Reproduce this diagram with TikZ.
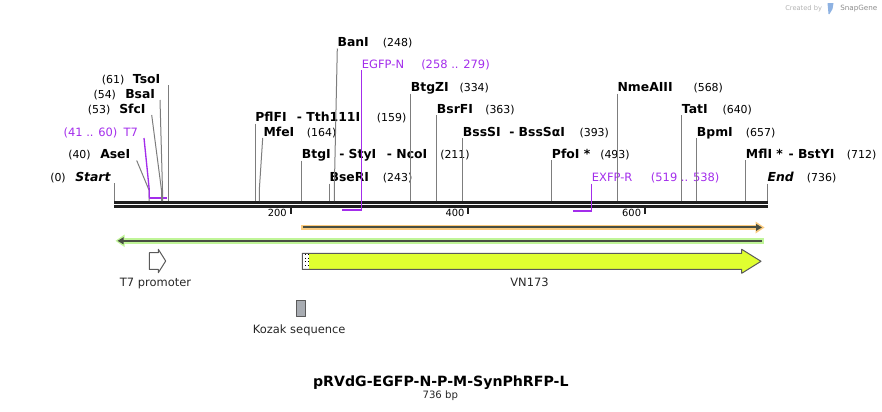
\documentclass[tikz,border=0pt]{standalone}
\usepackage{fontspec}
\setmainfont{DejaVu Sans}
\usepackage{tikz}
\usetikzlibrary{arrows.meta}

\definecolor{primer}{RGB}{163,45,235}
\definecolor{cutgray}{RGB}{125,125,125}
\definecolor{orangeband}{RGB}{251,202,125}
\definecolor{greenband}{RGB}{192,245,152}
\definecolor{featline}{RGB}{72,78,66}
\definecolor{vnfill}{RGB}{224,255,48}
\definecolor{kozakfill}{RGB}{168,172,178}
\definecolor{outline}{RGB}{90,90,90}

\begin{document}
\begin{tikzpicture}[
	x=0.75pt, y=-0.75pt,
	every node/.style={inner sep=0pt, anchor=base west},
	enz/.style={font=\fontsize{9.3}{11}\selectfont\bfseries},
	site/.style={font=\fontsize{8.2}{10}\selectfont},
	primerlbl/.style={font=\fontsize{8.6}{10}\selectfont, text=primer},
	featlbl/.style={font=\fontsize{8.6}{10}\selectfont, anchor=base, text=black!85},
	cut/.style={draw=cutgray, line width=0.75pt},
	primerline/.style={draw=primer, line width=1pt},
	line join=round
	]
	
	\useasboundingbox (0,0) rectangle (882,411);
	
	% Backbone
	\draw[line width=2.3pt, black!88] (114,202.4) -- (767.6,202.4);
	\draw[line width=2.1pt, black!88] (114,206.4) -- (767.6,206.4);
	
	% Ticks
	\foreach \x/\t in {290.7/200, 468.3/400, 645/600} {
		\draw[line width=1.5pt, black!88] (\x,207.5) -- (\x,214.3);
		\node[font=\fontsize{7.4}{9}\selectfont, anchor=base east] (tick\t) at (\x-3.7,216.7) {\t};
	}
	
	% Left labels
	\node[site] (s0) at (50,181.7) {(0)};
	\node[enz, font=\fontsize{9.3}{11}\selectfont\bfseries\itshape] (start) at (75,181.7) {Start};
	\draw[cut] (114.3,183) -- (114.3,201);
	
	\node[site] (s40) at (68,158.7) {(40)};
	\node[enz] (ase) at (100,158.7) {AseI};
	\draw[cut] (136.7,160.5) -- (149,190) -- (149,201);
	
	\node[primerlbl] (t7pos) at (63.3,136.7) {(41 .. 60)};
	\node[primerlbl] (t7) at (123.3,136.7) {T7};
	\draw[primerline] (144,138) -- (149.3,190) -- (149.3,197.7);
	\draw[primer, line width=1.3pt] (149.3,197.7) -- (166.7,197.7);
	
	\node[site] (s53) at (87.7,113.3) {(53)};
	\node[enz] (sfc) at (119,113.3) {SfcI};
	\draw[cut] (151.7,115) -- (161.7,191.7) -- (161.7,201);
	
	\node[site] (s54) at (93.3,98.3) {(54)};
	\node[enz] (bsa) at (125,98.3) {BsaI};
	\draw[cut] (160,100) -- (162.5,190) -- (162.5,201);
	
	\node[site] (s61) at (101.7,83.3) {(61)};
	\node[enz] (tso) at (132.7,83.3) {TsoI};
	\draw[cut] (168.3,85) -- (168.3,201);
	
	% Middle labels
	\node[enz] (pfl) at (255,121.7) {PflFI};
	\node[enz] (tth) at (296.7,121.7) {- Tth111I};
	\node[site] (s159) at (376.7,121.7) {(159)};
	\draw[cut] (255,123.5) -- (255,201);
	
	\node[enz] (mfe) at (263.3,136) {MfeI};
	\node[site] (s164) at (306.7,136) {(164)};
	\draw[cut] (262.7,138) -- (259.3,190) -- (259.3,201);
	
	\node[enz] (btg) at (301.7,158.7) {BtgI};
	\node[enz] (sty) at (339,158.7) {- StyI};
	\node[enz] (nco) at (386.7,158.7) {- NcoI};
	\node[site] (s211) at (440,158.7) {(211)};
	\draw[cut] (301.3,160.5) -- (301.3,201);
	
	\node[enz] (bser) at (329.3,181.7) {BseRI};
	\node[site] (s243) at (382.7,181.7) {(243)};
	\draw[cut] (329.3,183.5) -- (329.3,201);
	
	\node[enz] (ban) at (337.3,46.7) {BanI};
	\node[site] (s248) at (382.7,46.7) {(248)};
	\draw[cut] (337.3,48.5) -- (334.3,190) -- (334.3,201);
	
	\node[primerlbl] (egfpn) at (361.7,68.3) {EGFP-N};
	\node[primerlbl] (egfpnpos) at (421,68.3) {(258 .. 279)};
	\draw[primerline] (361.7,70) -- (361.7,210.3);
	\draw[primer, line width=1.3pt] (342.3,210.3) -- (362.2,210.3);
	
	\node[enz] (btgz) at (410.7,91.7) {BtgZI};
	\node[site] (s334) at (459.3,91.7) {(334)};
	\draw[cut] (410.7,93.5) -- (410.7,201);
	
	\node[enz] (bsrf) at (436.7,113.3) {BsrFI};
	\node[site] (s363) at (485,113.3) {(363)};
	\draw[cut] (436.7,115) -- (436.7,201);
	
	\node[enz] (bsss) at (462.7,136) {BssSI};
	\node[enz] (bsssa) at (509,136) {- BssSαI};
	\node[site] (s393) at (579.3,136) {(393)};
	\draw[cut] (462.7,138) -- (462.7,201);
	
	% Right labels
	\node[enz] (pfo) at (551.7,158.3) {PfoI *};
	\node[site] (s493) at (600,158.3) {(493)};
	\draw[cut] (551.7,160) -- (551.7,201);
	
	\node[primerlbl] (exfpr) at (591.7,181.7) {EXFP-R};
	\node[primerlbl] (exfprpos) at (650.7,181.7) {(519 .. 538)};
	\draw[primerline] (591.7,183.5) -- (591.7,210.7);
	\draw[primer, line width=1.3pt] (573.3,210.7) -- (592.2,210.7);
	
	\node[enz] (nme) at (617.3,91.7) {NmeAIII};
	\node[site] (s568) at (693.3,91.7) {(568)};
	\draw[cut] (617.3,93.5) -- (617.3,201);
	
	\node[enz] (tat) at (681.7,113.3) {TatI};
	\node[site] (s640) at (722.3,113.3) {(640)};
	\draw[cut] (681.7,115) -- (681.7,201);
	
	\node[enz] (bpm) at (696.7,136) {BpmI};
	\node[site] (s657) at (745.7,136) {(657)};
	\draw[cut] (696.7,138) -- (696.7,201);
	
	\node[enz] (mfl) at (745.7,158.3) {MflI *};
	\node[enz] (bsty) at (788.3,158.3) {- BstYI};
	\node[site] (s712) at (846.7,158.3) {(712)};
	\draw[cut] (745.7,160) -- (745.7,201);
	
	\node[enz, font=\fontsize{9.3}{11}\selectfont\bfseries\itshape] (end) at (767.3,181.7) {End};
	\node[site] (s736) at (806.7,181.7) {(736)};
	\draw[cut] (767.3,183.5) -- (767.3,201);
	
	% Orange feature
	\fill[orangeband] (301,225) rectangle (758,230);
	\fill[orangeband] (755.5,221.5) -- (764.5,227.5) -- (755.5,233.5) -- cycle;
	\draw[featline, line width=1.5pt, -{Triangle[length=4.5pt,width=5pt]}] (302.5,227.4) -- (762,227.4);
	
	% Green feature
	\fill[greenband] (121,238) rectangle (763.5,243.5);
	\fill[greenband] (124.5,234.5) -- (115.5,240.8) -- (124.5,247) -- cycle;
	\draw[featline, line width=1.5pt, -{Triangle[length=4.5pt,width=5pt]}] (762.3,240.8) -- (117.5,240.8);
	
	% T7 promoter
	\draw[outline, fill=white, line width=0.75pt] (149.3,252.7) -- (158.3,252.7) -- (158.3,249.3) -- (165.7,261) -- (158.3,272.7) -- (158.3,269.3) -- (149.3,269.3) -- cycle;
	\node[featlbl] (t7prom) at (155.5,286) {T7 promoter};
	
	% VN173
	\fill[vnfill] (302.3,253.3) -- (741.7,253.3) -- (741.7,249.3) -- (761,261.3) -- (741.7,273.3) -- (741.7,269.3) -- (302.3,269.3) -- cycle;
	\fill[white] (302.3,253.3) rectangle (309,269.3);
	\draw[black, dotted, line width=0.75pt] (305,254) -- (305,269);
	\draw[black, dotted, line width=0.75pt] (308.2,254) -- (308.2,269);
	\draw[outline, line width=0.75pt] (302.3,253.3) -- (741.7,253.3) -- (741.7,249.3) -- (761,261.3) -- (741.7,273.3) -- (741.7,269.3) -- (302.3,269.3) -- cycle;
	\node[featlbl] (vn) at (529.5,286.5) {VN173};
	
	% Kozak sequence
	\draw[outline, fill=kozakfill, line width=0.75pt] (296,300) rectangle (305.7,316.7);
	\node[featlbl] (kozak) at (299.2,333) {Kozak sequence};
	
	% Title
	\node[font=\fontsize{10.6}{12}\selectfont\bfseries, anchor=base] (title) at (440.8,386.7) {pRVdG-EGFP-N-P-M-SynPhRFP-L};
	\node[font=\fontsize{7.6}{9}\selectfont, anchor=base, text=black!85] (len) at (440.3,398.3) {736 bp};
	
	% Logo
	\node[font=\fontsize{5}{6}\selectfont, text=black!30] (made) at (785,10.5) {Created by};
	\fill[cyan!55!blue!45] (827.5,3) -- (833.5,3) -- (832.5,9) -- (829.5,14) -- (828.5,14) -- cycle;
	\node[font=\fontsize{5.4}{6}\selectfont, text=black!45] (snap) at (840,10.5) {SnapGene};
	
\end{tikzpicture}
\end{document}
